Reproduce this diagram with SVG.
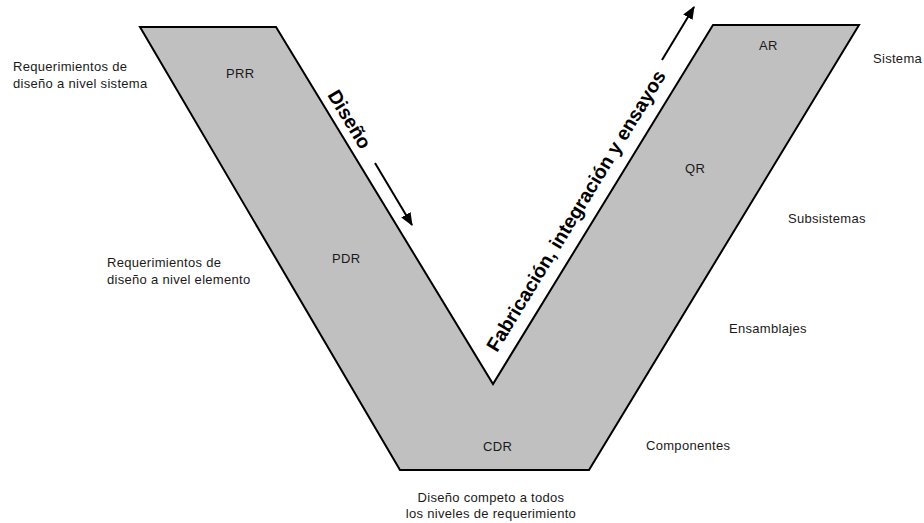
<svg xmlns="http://www.w3.org/2000/svg" width="924" height="523" viewBox="0 0 924 523">
<style>
.lbl{font-family:"Liberation Sans",Arial,sans-serif;font-size:13px;letter-spacing:0.3px;fill:#1a1a1a}
.big{font-family:"Liberation Sans",Arial,sans-serif;font-size:19.5px;font-weight:bold;fill:#000}
.arr{stroke:#000;stroke-width:2;fill:none;marker-end:url(#ah)}
</style>
<defs>
<marker id="ah" viewBox="0 0 12 10" refX="11" refY="5" markerWidth="13" markerHeight="11" orient="auto" markerUnits="userSpaceOnUse">
<path d="M0,0 L12,5 L0,10 z" fill="#000"/>
</marker>
</defs>
<rect width="924" height="523" fill="#fff"/>
<g id="v-shape">
<polygon points="140,27 276,27 493,384 713,25 859,25 589,470 400,470" fill="#c0c0c0" stroke="#000" stroke-width="2" stroke-linejoin="miter"/>
</g>
<g id="reviews">
<text class="lbl" x="226" y="78">PRR</text>
<text class="lbl" x="332" y="263">PDR</text>
<text class="lbl" x="483" y="451">CDR</text>
<text class="lbl" x="685" y="173">QR</text>
<text class="lbl" x="759" y="50">AR</text>
</g>
<g id="left-labels">
<text class="lbl" x="13" y="71">Requerimientos de</text>
<text class="lbl" x="13" y="88">diseño a nivel sistema</text>
<text class="lbl" x="107" y="267">Requerimientos de</text>
<text class="lbl" x="107" y="284">diseño a nivel elemento</text>
</g>
<g id="right-labels">
<text class="lbl" x="873" y="63">Sistema</text>
<text class="lbl" x="788" y="223">Subsistemas</text>
<text class="lbl" x="729" y="333">Ensamblajes</text>
<text class="lbl" x="646" y="450">Componentes</text>
</g>
<g id="bottom-label">
<text class="lbl" x="491" y="502" text-anchor="middle">Diseño competo a todos</text>
<text class="lbl" x="491" y="518" text-anchor="middle">los niveles de requerimiento</text>
</g>
<g id="phase-labels">
<text class="big" transform="translate(327,95) rotate(58.7)">Diseño</text>
<text class="big" transform="translate(497,353) rotate(-58.6)">Fabricación, integración y ensayos</text>
</g>
<g id="connectors">
<line class="arr" x1="375" y1="163" x2="412" y2="225"/>
<line class="arr" x1="662" y1="60" x2="694" y2="7"/>
</g>
</svg>
